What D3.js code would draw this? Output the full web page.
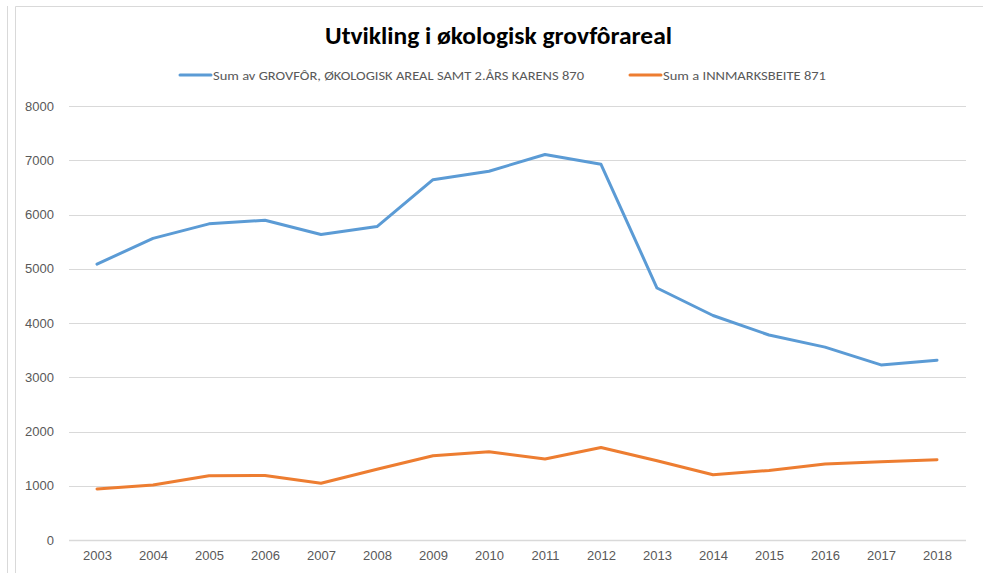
<!DOCTYPE html>
<html>
<head>
<meta charset="utf-8">
<script src="https://cdn.jsdelivr.net/npm/d3@7"></script>
<style>
  html, body { margin: 0; padding: 0; background: #fff; }
  svg { display: block; font-family: Carlito, Calibri, Lato, "Open Sans", sans-serif; }
  .tick text { fill: #595959; font-size: 13px; }
</style>
</head>
<body>
<div id="chart"></div>
<script>
var width = 983,
    height = 573;

// data
var years = ['2003', '2004', '2005', '2006', '2007', '2008', '2009', '2010',
             '2011', '2012', '2013', '2014', '2015', '2016', '2017', '2018'];
var grovfor = [5085, 5560, 5828, 5893, 5630, 5778, 6642, 6798,
               7105, 6926, 4645, 4138, 3779, 3555, 3228, 3315];
var innmark = [940, 1013, 1186, 1188, 1045, 1305, 1552, 1628,
               1492, 1706, 1460, 1202, 1283, 1400, 1442, 1479];
var seriesNames = ['Sum av GROVFÔR, ØKOLOGISK AREAL SAMT 2.ÅRS KARENS 870',
                   'Sum a INNMARKSBEITE 871'];
var seriesColors = ['#5b9bd5', '#ed7d31'];
var yTicks = [0, 1000, 2000, 3000, 4000, 5000, 6000, 7000, 8000];

var svg = d3.select('#chart')
    .append('svg')
    .attr('width', width)
    .attr('height', height);

// frame lines of the sheet
svg.append('line')
    .attr('x1', 7.5).attr('x2', 7.5).attr('y1', 6).attr('y2', height)
    .style('stroke', '#d9d9d9');
svg.append('path')
    .attr('d', 'M15.5,' + height + 'V6.5H' + width)
    .style('fill', 'none')
    .style('stroke', '#d9d9d9');

// Title
svg.append('text')
    .attr('x', 325)
    .attr('y', 44)
    .attr('textLength', 347)
    .attr('lengthAdjust', 'spacingAndGlyphs')
    .style('font-size', '24px')
    .style('font-weight', 'bold')
    .style('fill', '#000')
    .text('Utvikling i økologisk grovfôrareal');

var xScale = d3.scalePoint()
    .domain(years)
    .range([69, 965])
    .padding(0.5);

var yScale = d3.scaleLinear()
    .domain([0, 8000])
    .range([540, 106]);

// gridlines
svg.append('g')
    .selectAll('line')
    .data(yTicks)
    .enter()
    .append('line')
    .attr('x1', 69)
    .attr('x2', 966)
    .attr('y1', d => Math.round(yScale(d)) + 0.5)
    .attr('y2', d => Math.round(yScale(d)) + 0.5)
    .style('stroke', '#d9d9d9')
    .style('stroke-width', d => d === 0 ? 1.5 : 1);

// Y axis labels
var yAxis = d3.axisLeft(yScale).tickValues(yTicks).tickFormat(d3.format('d'))
    .tickSize(0).tickPadding(0);
svg.append('g')
    .attr('transform', 'translate(54, 0)')
    .call(yAxis)
    .call(g => g.select('.domain').remove());

// X axis labels
var xAxis = d3.axisBottom(xScale).tickSize(0).tickPadding(10);
svg.append('g')
    .attr('transform', 'translate(0, 541)')
    .call(xAxis)
    .call(g => g.select('.domain').remove());

var line = d3.line()
    .x((d, i) => xScale(years[i]))
    .y(d => yScale(d));

[grovfor, innmark].forEach(function (vals, k) {
    svg.append('path')
        .datum(vals)
        .attr('d', line)
        .style('fill', 'none')
        .style('stroke', seriesColors[k])
        .style('stroke-width', 3)
        .style('stroke-linejoin', 'round')
        .style('stroke-linecap', 'round');
});

// Legend
var legendX = [180, 630],
    legendLen = [371, 163];
seriesNames.forEach(function (name, k) {
    var g = svg.append('g').attr('transform', 'translate(' + legendX[k] + ', 75)');
    g.append('line')
        .attr('x1', 0).attr('x2', 31)
        .attr('y1', 0).attr('y2', 0)
        .style('stroke', seriesColors[k])
        .style('stroke-width', 3)
        .style('stroke-linecap', 'round');
    g.append('text')
        .attr('x', 33)
        .attr('y', 5)
        .attr('textLength', legendLen[k])
        .attr('lengthAdjust', 'spacingAndGlyphs')
        .style('font-size', '13px')
        .style('fill', '#595959')
        .text(name);
});
</script>
</body>
</html>
